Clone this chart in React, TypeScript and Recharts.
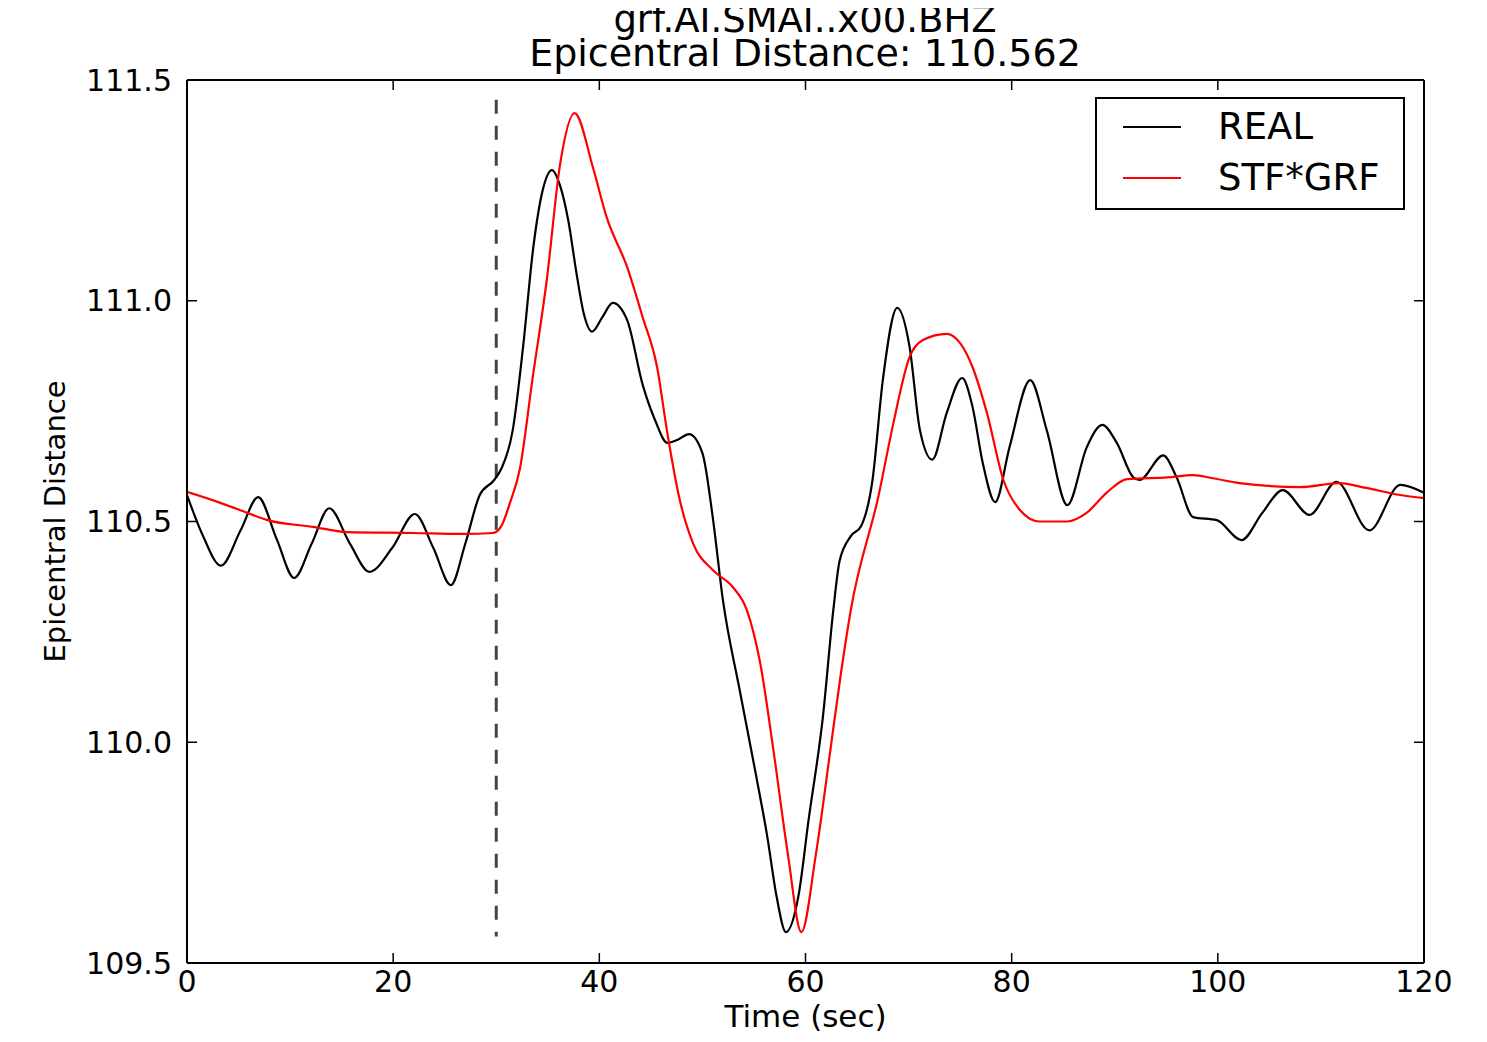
import React from 'react';
import { LineChart, Line, XAxis, YAxis, ReferenceLine, Legend } from 'recharts';

// Observed trace (black)
const realTime = [
  0, 1.5, 3.3, 5.2, 6.9, 8.7, 10.4, 12.1, 13.8, 15.8, 17.7, 19.9, 22.1, 23.9, 25.6, 27.0, 28.4, 29.8,
  30.5, 31.6, 32.6, 33.6, 34.5, 35.4, 36.2, 37.0, 37.8, 38.5, 39.3, 40.3, 41.3, 42.7, 44.2, 45.4,
  46.6, 47.6, 48.7, 50.0, 51.0, 52.0, 53.6, 55.0, 56.3, 57.2, 58.1, 59.3, 60.3, 61.7, 62.7, 63.3,
  64.4, 65.4, 66.5, 67.5, 68.9, 70.1, 71.1, 72.3, 73.7, 75.2, 76.2, 77.2, 78.4, 79.8, 81.8, 83.4,
  85.4, 87.3, 88.8, 90.2, 91.8, 92.4, 94.7, 96.0, 97.6, 99.9, 102.3, 104.3, 106.3, 108.9, 111.5,
  114.7, 117.7, 120,
];
const realValue = [
  110.56, 110.47, 110.4, 110.48, 110.555, 110.46, 110.372, 110.45, 110.53, 110.45, 110.386, 110.44,
  110.517, 110.44, 110.356, 110.45, 110.56, 110.594, 110.62, 110.707, 110.895, 111.122, 111.25,
  111.296, 111.26, 111.18, 111.06, 110.97, 110.93, 110.963, 110.995, 110.956, 110.81, 110.73,
  110.678, 110.685, 110.698, 110.655, 110.51, 110.32, 110.12, 109.95, 109.785, 109.65, 109.57,
  109.65, 109.824, 110.06, 110.3, 110.41, 110.467, 110.49, 110.594, 110.82, 110.984, 110.895,
  110.707, 110.64, 110.746, 110.825, 110.76, 110.632, 110.544, 110.669, 110.82, 110.707, 110.537,
  110.669, 110.719, 110.678, 110.6, 110.594, 110.65, 110.6, 110.51, 110.503, 110.458, 110.519,
  110.571, 110.515, 110.59, 110.48, 110.583, 110.565,
];

// Synthetic trace (red)
const synthTime = [
  0, 3.5, 5.8, 7.8, 12.2, 15.5, 21.9, 26.8, 29.7, 30.5, 31.3, 32.3, 33.5, 34.9, 36.2, 37.6, 39.4,
  40.7, 42.7, 44.2, 45.6, 46.6, 47.8, 49.1, 51.0, 53.0, 54.3, 55.6, 56.9, 58.3, 59.6, 61.0, 62.4,
  63.4, 64.4, 67.1, 68.5, 70.1, 71.4, 73.7, 75.0, 76.2, 77.6, 79.2, 80.8, 82.7, 85.4, 87.3, 89.2,
  91.2, 95.1, 97.6, 99.5, 102.1, 108.0, 111.8, 114.4, 117.7, 120,
];
const synthValue = [
  110.567, 110.54, 110.52, 110.503, 110.488, 110.476, 110.474, 110.472, 110.474, 110.49, 110.54,
  110.62, 110.82, 111.047, 111.31, 111.425, 111.3, 111.19, 111.076, 110.963, 110.85, 110.7, 110.549,
  110.45, 110.39, 110.35, 110.3, 110.18, 109.98, 109.745, 109.57, 109.745, 109.98, 110.15, 110.3,
  110.56, 110.72, 110.873, 110.911, 110.925, 110.904, 110.85, 110.746, 110.594, 110.526, 110.5,
  110.5, 110.52, 110.565, 110.596, 110.6, 110.605, 110.598, 110.587, 110.578, 110.587, 110.576,
  110.56, 110.553,
];

const xTicks = [0, 20, 40, 60, 80, 100, 120];
const yTicks = [109.5, 110.0, 110.5, 111.0, 111.5];
const pickTime = 30;
const pickRange = [111.455, 109.56];

const FONT = '"DejaVu Sans", sans-serif';
const frame = { stroke: '#000', strokeWidth: 2 };

const realData = realTime.map((t, i) => ({ t, v: realValue[i] }));
const synthData = synthTime.map((t, i) => ({ t, v: synthValue[i] }));

const titleStyle: React.CSSProperties = {
  position: 'absolute',
  left: 397,
  width: 800,
  textAlign: 'center',
  fontFamily: FONT,
  fontSize: 38,
  whiteSpace: 'nowrap',
  zIndex: 1,
};

const LegendBox = ({ payload }: any) => (
  <div
    style={{
      border: '2px solid #000',
      background: '#fff',
      width: 306,
      height: 107,
      boxSizing: 'content-box',
      fontFamily: FONT,
      fontSize: 37,
      paddingTop: 2,
    }}
  >
    {(payload || []).map((p: any) => (
      <div key={p.value} style={{ display: 'flex', alignItems: 'center', height: 51 }}>
        <svg width={58} height={4} style={{ marginLeft: 26, marginRight: 37 }}>
          <line x1={0} x2={58} y1={2} y2={2} stroke={p.color} strokeWidth={2} />
        </svg>
        <span>{p.value}</span>
      </div>
    ))}
  </div>
);

const YLabel = ({ viewBox }: any) => {
  const cx = viewBox.x - 22;
  const cy = viewBox.y + viewBox.height / 2;
  return (
    <text
      x={cx}
      y={cy}
      transform={`rotate(-90, ${cx}, ${cy})`}
      textAnchor="middle"
      dominantBaseline="central"
      fontSize={29}
      fontFamily={FONT}
      fill="#000"
    >
      Epicentral Distance
    </text>
  );
};

export default function App() {
  return (
    <div style={{ position: 'relative', width: 1471, height: 1026, background: '#fff' }}>
      <div style={{ ...titleStyle, top: -5, fontSize: 37, lineHeight: '34px' }}>grf.AI.SMAI..x00.BHZ</div>
      <div style={{ ...titleStyle, top: 26, lineHeight: '38px' }}>Epicentral Distance: 110.562</div>
      <LineChart width={1471} height={1026} margin={{ top: 71, right: 54, bottom: 1, left: 69 }}>
        <XAxis
          xAxisId="bottom"
          dataKey="t"
          type="number"
          domain={[0, 120]}
          ticks={xTicks}
          allowDataOverflow
          height={70}
          tickSize={-10}
          tickMargin={18}
          axisLine={frame}
          tickLine={{ stroke: '#000', strokeWidth: 1.5 }}
          tick={{ fill: '#000', fontSize: 30, fontFamily: FONT }}
          label={{ value: 'Time (sec)', position: 'insideBottom', offset: 6, fill: '#000', fontSize: 31, fontFamily: FONT }}
        />
        <XAxis
          xAxisId="top"
          orientation="top"
          dataKey="t"
          type="number"
          domain={[0, 120]}
          ticks={xTicks}
          allowDataOverflow
          height={1}
          tickSize={-10}
          tickFormatter={() => ''}
          axisLine={frame}
          tickLine={{ stroke: '#000', strokeWidth: 1.5 }}
        />
        <YAxis
          yAxisId="left"
          type="number"
          domain={[109.5, 111.5]}
          ticks={yTicks}
          allowDataOverflow
          width={110}
          tickSize={-10}
          tickMargin={25}
          tickFormatter={(v: number) => v.toFixed(1)}
          axisLine={frame}
          tickLine={{ stroke: '#000', strokeWidth: 1.5 }}
          tick={{ fill: '#000', fontSize: 30, fontFamily: FONT }}
          label={{ content: YLabel }}
        />
        <YAxis
          yAxisId="right"
          orientation="right"
          type="number"
          domain={[109.5, 111.5]}
          ticks={yTicks}
          allowDataOverflow
          width={1}
          tickSize={-10}
          tickFormatter={() => ''}
          axisLine={frame}
          tickLine={{ stroke: '#000', strokeWidth: 1.5 }}
        />
        <ReferenceLine
          xAxisId="bottom"
          yAxisId="left"
          segment={[
            { x: pickTime, y: pickRange[0] },
            { x: pickTime, y: pickRange[1] },
          ]}
          stroke="#444"
          strokeWidth={3}
          strokeDasharray="14 12"
        />
        <Line
          xAxisId="bottom"
          yAxisId="left"
          data={realData}
          dataKey="v"
          name="REAL"
          type="monotone"
          stroke="#000"
          strokeWidth={2.2}
          dot={false}
          activeDot={false}
          isAnimationActive={false}
        />
        <Line
          xAxisId="bottom"
          yAxisId="left"
          data={synthData}
          dataKey="v"
          name="STF*GRF"
          type="monotone"
          stroke="#f00"
          strokeWidth={2.2}
          dot={false}
          activeDot={false}
          isAnimationActive={false}
        />
        <Legend
          layout="vertical"
          align="center"
          verticalAlign="middle"
          content={LegendBox}
          wrapperStyle={{ position: 'absolute', left: 1087, top: 89, width: 310 }}
        />
      </LineChart>
    </div>
  );
}
